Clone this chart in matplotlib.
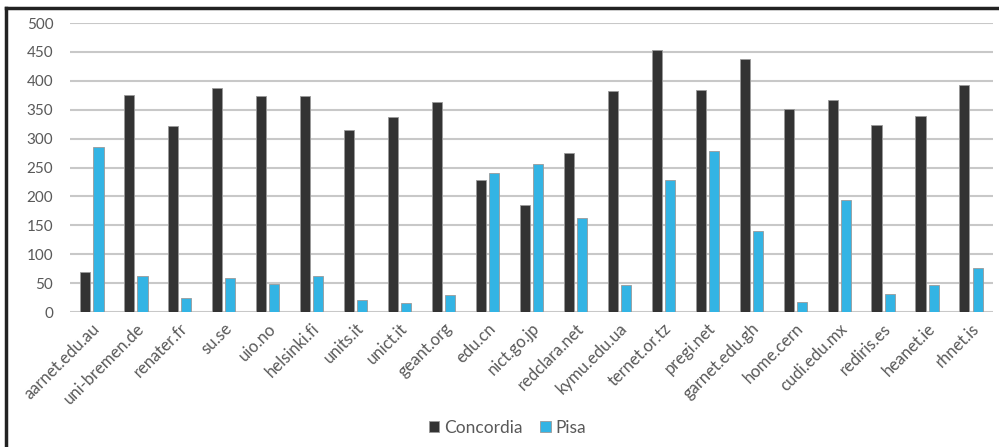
import numpy as np
import matplotlib.pyplot as plt
from matplotlib.lines import Line2D

sites = ['aarnet.edu.au', 'uni-bremen.de', 'renater.fr', 'su.se', 'uio.no',
         'helsinki.fi', 'units.it', 'unict.it', 'geant.org', 'edu.cn',
         'nict.go.jp', 'redclara.net', 'kymu.edu.ua', 'ternet.or.tz',
         'pregi.net', 'garnet.edu.gh', 'home.cern', 'cudi.edu.mx',
         'rediris.es', 'heanet.ie', 'rhnet.is']
concordia = [69, 376, 321, 388, 373, 373, 315, 338, 363, 228, 186, 275,
             382, 453, 384, 437, 352, 366, 323, 339, 392]
pisa = [285, 63, 25, 58, 48, 62, 20, 16, 30, 240, 256, 162,
        46, 228, 278, 140, 17, 194, 31, 46, 76]

plt.rcParams['font.family'] = ['Lato', 'DejaVu Sans']

fig = plt.figure(figsize=(9.99, 4.47), dpi=100)
ax = fig.add_axes([0.070, 0.302, 0.924, 0.6465])

x = np.arange(len(sites))
w = 0.23
ax.bar(x - 0.15, concordia, w, color='#333333', edgecolor='#9a9a9a',
       linewidth=0.6, label='Concordia', zorder=3)
ax.bar(x + 0.15, pisa, w, color='#33b4e4', edgecolor='#9a9a9a',
       linewidth=0.6, label='Pisa', zorder=3)

ax.set_xlim(-0.5, len(sites) - 0.5)
ax.set_ylim(0, 500)
ax.set_yticks(np.arange(0, 501, 50))
ax.grid(True, axis='y', color='#c8c8c8', linewidth=1.5, zorder=0)
for s in ax.spines.values():
    s.set_visible(False)
ax.tick_params(axis='both', length=0, colors='#595959')
ax.tick_params(axis='y', pad=12, labelsize=11)
ax.tick_params(axis='x', pad=6, labelsize=12)
ax.set_xticks(x)
ax.set_xticklabels(sites, rotation=45, ha='right', rotation_mode='anchor')

ax.legend(loc='center', bbox_to_anchor=(0.474, -0.40), ncol=2,
          frameon=False, fontsize=12.5, handlelength=0.6, handleheight=0.6,
          columnspacing=1.0, handletextpad=0.3, labelcolor='#595959')

# frame only on the top and left edges
fig.add_artist(Line2D([0.006, 0.006], [-0.01, 0.982], transform=fig.transFigure,
                      color='#222222', linewidth=2.5))
fig.add_artist(Line2D([0.006, 1.0], [0.982, 0.982], transform=fig.transFigure,
                      color='#222222', linewidth=2.5))

fig.savefig('out.png', dpi=100)
